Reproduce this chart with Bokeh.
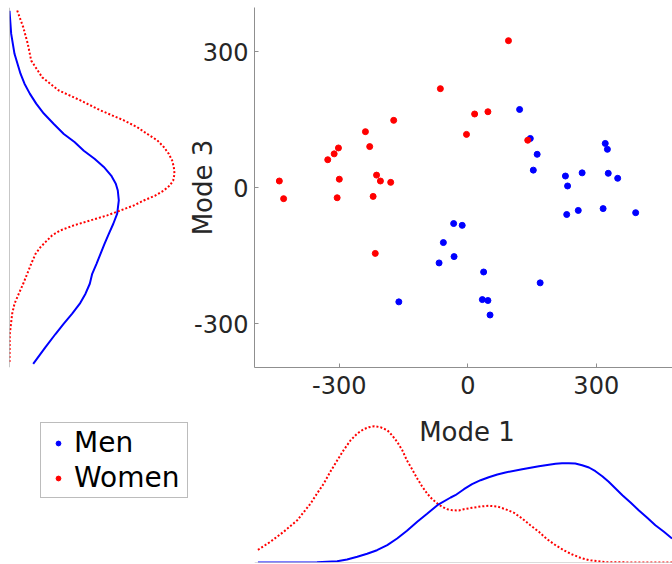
import numpy as np
from bokeh.plotting import figure
from bokeh.layouts import column, row
from bokeh.models import (Range1d, FixedTicker, Span, Label, Legend, LegendItem)
from bokeh.embed import file_html
from bokeh.resources import INLINE

# ---------------- data ----------------
men_mode1 = [121, 146, 162, 153, 228, 233, 267, 321, 326, 328, 350, 231, 258, 316, 392,
             -33, -13, -57, -32, -67, 37, 169, -161, 34, 47, 52]
men_mode3 = [173, 109, 74, 39, 26, 4, 33, 98, 85, 32, 21, -59, -50, -46, -55,
             -79, -83, -121, -152, -166, -186, -210, -252, -247, -249, -281]

women_mode1 = [95, -64, 16, 47, -3, 140, -173, -239, -229, -302, -312, -327, -440, -300,
               -213, -204, -180, -430, -305, -221, -216]
women_mode3 = [325, 219, 163, 168, 118, 105, 149, 124, 91, 88, 75, 62, 15, 19,
               28, 15, 12, -24, -22, -19, -145]

# density of Mode 1 (bottom panel), arbitrary units
women_m1_grid = [-490, -461, -430, -398, -367, -352, -336, -321, -305, -290, -274, -258, -243,
                 -231, -218, -204, -188, -177, -165, -153, -142, -130, -118, -107, -95, -83,
                 -71, -60, -48, -36, -21, -9, 10, 30, 49, 69, 88, 108, 127, 146, 166, 185,
                 205, 224, 244, 263, 283, 322, 400, 477]
women_m1_dens = [12.7, 20.7, 30.7, 42.3, 59, 69, 79, 90.7, 102, 112.3, 122, 129, 133.3,
                 135.3, 136.3, 135.3, 132.3, 127.3, 120.7, 112.3, 102, 93.3, 84, 76.3, 69, 63.3,
                 59, 55.7, 53.3, 52.3, 52, 53.3, 54.7, 56, 56.7, 56, 53.3, 49.7, 44, 37.3, 30.7,
                 23.3, 17.3, 12.3, 8, 4.7, 2.3, 0.3, 0, 0]
men_m1_grid = [-490, -420, -352, -305, -282, -258, -235, -212, -188, -165, -142, -118, -95,
               -71, -40, -29, -9, 10, 30, 49, 69, 88, 127, 166, 205, 220, 236, 251, 267, 283,
               298, 314, 329, 345, 361, 380, 399, 419, 438, 458, 477]
men_m1_dens = [0, 0, 0.3, 1.3, 3, 5.7, 8.7, 12.3, 17.3, 24, 31.7, 40.7, 48.7, 57.3, 65, 67.3,
               73.3, 78.3, 82.3, 85.3, 88, 90, 93.3, 96.3, 98.7, 99.3, 99.3, 99, 97.3, 95,
               91.3, 86.3, 80.7, 74, 67.3, 60, 52.3, 44.7, 37.3, 30.7, 24]

# density of Mode 3 (left panel), arbitrary units
men_m3_grid = [391, 340, 296, 252, 230, 208, 186, 164, 141, 119, 101, 82, 64, 46, 27, 9, -6,
               -28, -57, -80, -102, -124, -146, -168, -190, -212, -234, -256, -278, -300,
               -323, -352, -389]
men_m3_dens = [0, 1.7, 5, 11, 15, 20.3, 26.7, 34.3, 44.3, 54.3, 65, 74.3, 85, 94.3, 101.7,
               106.3, 108.3, 109.3, 107.7, 103.7, 99.3, 95, 91, 87, 82.7, 80.3, 76, 70.3, 62.7,
               54.3, 46, 36, 23.7]
women_m3_grid = [391.6, 355, 318, 281, 244, 215, 193, 171, 149, 134, 119, 105, 90, 75, 60,
                 46, 31, 16, 5, -6, -17, -28, -39, -50, -61, -72, -83, -94, -105, -116, -131,
                 -146, -168, -190, -212, -234, -256, -278, -323, -389]
women_m3_dens = [7.7, 13.7, 18.3, 21.7, 32.7, 49.3, 71, 91, 114.3, 127.7, 137.7, 147.7,
                 154.3, 159.3, 162.7, 164.3, 165, 163.7, 160.3, 154.3, 146, 134.3, 124.3, 111,
                 97.7, 81, 64.3, 51, 42.7, 37.7, 31, 26, 21.7, 17.7, 13.7, 9.3, 5, 2.7, 0.3, 0]

ticks = [-300, 0, 300]
tick_text = {-300: "-300", 0: "0", 300: "300"}
labels = ["Men", "Women"]

# ---------------- styles ----------------
BLUE = "#0000ff"
RED = "#ff0000"
TXT = "#262626"
AXC = "#8f8f8f"
FONT = "DejaVu Sans"


def bare(p):
    p.outline_line_color = None
    p.grid.visible = False
    p.background_fill_color = "white"
    p.border_fill_color = "white"


x_rng = Range1d(-498, 478)
y_rng = Range1d(-397, 398.3)

# ---------------- scatter ----------------
sc = figure(width=489, height=410, x_range=x_rng, y_range=y_rng,
            output_backend="svg", toolbar_location=None,
            min_border_left=71, min_border_right=0, min_border_top=7, min_border_bottom=43)
bare(sc)
sc.scatter(men_mode1, men_mode3, size=6, color=BLUE, line_color=BLUE)
sc.scatter(women_mode1, women_mode3, size=6, color=RED, line_color=RED)
for ax in (sc.xaxis[0], sc.yaxis[0]):
    ax.ticker = FixedTicker(ticks=ticks)
    ax.major_label_overrides = tick_text
    ax.minor_tick_line_color = None
    ax.major_tick_in = 4
    ax.major_tick_out = 0
    ax.major_tick_line_color = AXC
    ax.axis_line_color = AXC
    ax.major_label_text_font = FONT
    ax.major_label_text_font_size = "24px"
    ax.major_label_text_color = TXT
sc.xaxis[0].major_label_standoff = 8
yax = sc.yaxis[0]
yax.major_label_standoff = 6
yax.axis_label = "Mode 3"
yax.axis_label_text_font = FONT
yax.axis_label_text_font_size = "26px"
yax.axis_label_text_font_style = "normal"
yax.axis_label_text_color = TXT
yax.axis_label_standoff = -27

# ---------------- left density (Mode 3) ----------------
ld = figure(width=183, height=410, x_range=Range1d(0, 174), y_range=y_rng,
            output_backend="svg", toolbar_location=None, x_axis_type=None, y_axis_type=None,
            min_border_left=9, min_border_right=0, min_border_top=7, min_border_bottom=43)
bare(ld)
ld.add_layout(Span(location=0, dimension="height", line_color=AXC, line_width=1))
ld.line(men_m3_dens, men_m3_grid, color=BLUE, line_width=2)
ld.line(women_m3_dens, women_m3_grid, color=RED, line_width=2, line_dash="2 2")

# ---------------- bottom density (Mode 1) ----------------
bd = figure(width=484, height=154, x_range=x_rng, y_range=Range1d(0, 152),
            output_backend="svg", toolbar_location=None, x_axis_type=None, y_axis_type=None,
            min_border_left=66, min_border_right=0, min_border_top=0, min_border_bottom=2)
bare(bd)
bd.add_layout(Span(location=0, dimension="width", line_color="#b8b8b8", line_width=1))
bd.line(women_m1_grid, women_m1_dens, color=RED, line_width=2, line_dash="2 2")
bd.line(men_m1_grid, men_m1_dens, color=BLUE, line_width=2)
bd.add_layout(Label(x=212.5, y=131, x_units="screen", y_units="screen", text="Mode 1",
                    text_align="center", text_baseline="alphabetic",
                    text_font=FONT, text_font_size="26px", text_color=TXT))

# ---------------- legend panel ----------------
lg = figure(width=188, height=154, x_range=Range1d(0, 1), y_range=Range1d(0, 1),
            output_backend="svg", toolbar_location=None, x_axis_type=None, y_axis_type=None,
            min_border_left=0, min_border_right=0, min_border_top=0, min_border_bottom=2)
bare(lg)
# proxy renderers (their point lies outside this panel's visible range)
r_men = lg.scatter(men_mode1[:1], men_mode3[:1], size=5, color=BLUE, line_color=BLUE)
r_women = lg.scatter(women_mode1[:1], women_mode3[:1], size=5, color=RED, line_color=RED)
legend = Legend(items=[LegendItem(label=labels[0], renderers=[r_men]),
                       LegendItem(label=labels[1], renderers=[r_women])],
                location=(40, 64), orientation="vertical",
                label_text_font=FONT, label_text_font_size="28px", label_text_color="black",
                border_line_color="#7a7a7a", border_line_width=1,
                background_fill_color="white", background_fill_alpha=1,
                padding=3, spacing=2, glyph_width=28, glyph_height=12, label_height=32,
                label_width=110, label_standoff=2, margin=0)
lg.add_layout(legend, "center")

layout = column(row(ld, sc), row(lg, bd))

open("out.html", "w").write(file_html(layout, INLINE))
